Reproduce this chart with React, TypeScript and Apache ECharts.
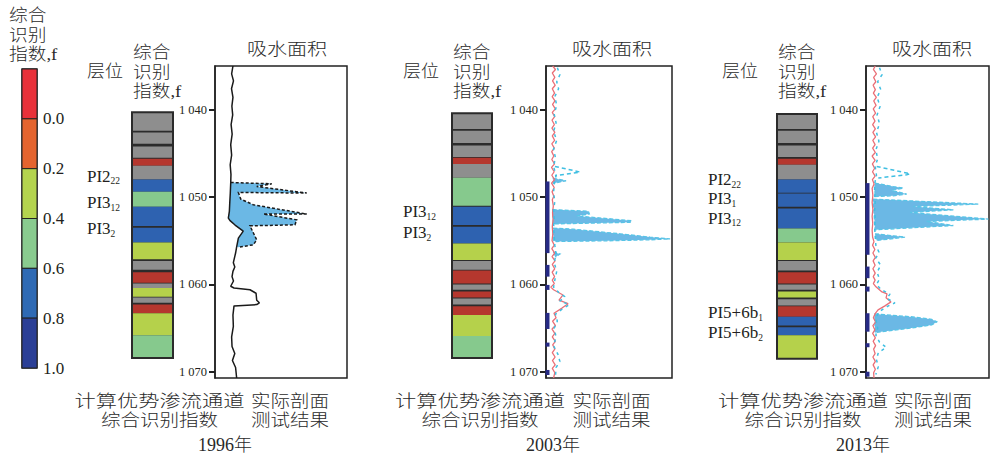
import React, { useEffect, useRef } from "react";
import * as echarts from "echarts";

const DEPTH_MIN = 1035;
const DEPTH_MAX = 1070.7;
const depthTicks = [1040, 1050, 1060, 1070];

const legendStops = [-0.2, 0, 0.2, 0.4, 0.6, 0.8, 1.0];
const legendColors = ["#e8313a", "#e4642f", "#b4d44f", "#89cb8f", "#2f6ab4", "#2b3f96"];
const legendTicks = [0, 0.2, 0.4, 0.6, 0.8, 1.0];

const layerPalette: Record<string, string> = {
  G: "#8e8e8e",
  R: "#b5372e",
  B: "#2e62b0",
  L: "#86c98d",
  Y: "#b5d14b",
};

// strip layers: [top depth, bottom depth, class]
const strip1996: [number, number, string][] = [
  [1040.3, 1042.4, "G"], [1042.6, 1043.9, "G"], [1044.2, 1045.5, "G"], [1045.6, 1046.4, "R"],
  [1046.4, 1048.0, "G"], [1048.0, 1049.4, "B"], [1049.4, 1051.1, "L"], [1051.1, 1053.3, "B"],
  [1053.5, 1055.2, "B"], [1055.2, 1057.1, "Y"], [1057.3, 1058.3, "G"], [1058.6, 1059.8, "R"],
  [1059.9, 1060.4, "G"], [1060.4, 1061.4, "Y"], [1061.5, 1062.1, "G"], [1062.3, 1063.3, "R"],
  [1063.3, 1065.8, "Y"], [1065.8, 1068.4, "L"],
];
const strip2003: [number, number, string][] = [
  [1040.4, 1042.2, "G"], [1042.4, 1043.8, "G"], [1044.1, 1045.4, "G"], [1045.5, 1046.2, "R"],
  [1046.2, 1047.8, "G"], [1047.8, 1051.0, "L"], [1051.1, 1053.2, "B"], [1053.4, 1055.3, "B"],
  [1055.3, 1057.2, "Y"], [1057.3, 1058.3, "G"], [1058.4, 1059.9, "R"], [1060.0, 1060.6, "G"],
  [1060.8, 1061.5, "R"], [1061.6, 1062.3, "G"], [1062.5, 1063.5, "R"], [1063.5, 1065.9, "Y"],
  [1065.9, 1068.4, "L"],
];
const strip2013: [number, number, string][] = [
  [1040.5, 1042.2, "G"], [1042.4, 1043.8, "G"], [1044.1, 1045.4, "G"], [1045.6, 1046.3, "R"],
  [1046.3, 1048.0, "G"], [1048.0, 1049.5, "B"], [1049.6, 1051.1, "B"], [1051.3, 1053.6, "B"],
  [1053.6, 1055.2, "L"], [1055.2, 1057.2, "Y"], [1057.3, 1058.4, "G"], [1058.6, 1059.9, "R"],
  [1060.0, 1060.6, "G"], [1060.8, 1061.5, "Y"], [1061.7, 1062.4, "G"], [1062.5, 1063.7, "R"],
  [1063.7, 1064.7, "B"], [1064.9, 1065.8, "B"], [1065.8, 1068.5, "Y"],
];

// zone labels: [depth, name, subscript]
const zones1996: [number, string, string][] = [
  [1047.6, "PI2", "22"], [1050.65, "PI3", "12"], [1053.6, "PI3", "2"],
];
const zones2003: [number, string, string][] = [
  [1051.7, "PI3", "12"], [1054.1, "PI3", "2"],
];
const zones2013: [number, string, string][] = [
  [1048.0, "PI2", "22"], [1050.2, "PI3", "1"], [1052.4, "PI3", "12"],
  [1063.25, "PI5+6b", "1"], [1065.5, "PI5+6b", "2"],
];

const years = ["1996年", "2003年", "2013年"];

// 1996 profile: [relative value, depth]
const curve1996: [number, number][] = [
  [13.6, 1035.0], [12.6, 1035.9], [14.0, 1036.7], [12.5, 1037.6], [13.6, 1038.6], [12.8, 1039.6],
  [13.4, 1040.6], [12.2, 1041.7], [13.0, 1042.8], [11.9, 1044.0], [12.6, 1045.2], [11.5, 1046.3],
  [12.1, 1047.4], [11.9, 1048.4], [11.6, 1049.5], [11.2, 1050.6], [10.9, 1051.6], [10.1, 1052.4],
  [11.4, 1052.7], [15.2, 1053.2], [21.4, 1053.9], [17.7, 1054.7], [16.4, 1055.7], [15.6, 1056.4],
  [13.9, 1057.5], [15.0, 1058.0], [13.6, 1058.5], [12.9, 1059.1], [14.0, 1059.6], [11.9, 1060.2],
  [14.4, 1060.4], [26.5, 1060.6], [31.1, 1061.0], [31.6, 1061.8], [33.6, 1062.1], [31.6, 1062.3],
  [14.4, 1062.45], [13.6, 1063.5], [13.9, 1064.8], [12.6, 1066.0], [12.9, 1067.1], [15.0, 1067.9],
  [13.2, 1068.7], [15.6, 1069.5], [16.4, 1070.7],
];
const area1996: [number, number][] = [
  [11.9, 1048.33], [43.0, 1048.48], [31.6, 1048.79], [69.5, 1049.54], [17.7, 1049.47], [19.5, 1050.23],
  [29.0, 1050.88], [69.5, 1051.94], [36.6, 1051.94], [61.9, 1052.6], [60.6, 1053.17], [26.5, 1053.29],
  [31.6, 1054.89], [29.0, 1055.46], [17.7, 1055.73], [16.4, 1055.66], [17.7, 1054.7], [21.4, 1053.9],
  [15.2, 1053.2], [11.4, 1052.7], [10.1, 1052.4], [10.9, 1051.6], [11.2, 1050.6], [11.6, 1049.5],
];
const edge1996: [number, number][] = [
  [11.9, 1048.33], [43.0, 1048.48], [31.6, 1048.79], [69.5, 1049.54], [17.7, 1049.47], [19.5, 1050.23],
  [29.0, 1050.88], [69.5, 1051.94], [36.6, 1051.94], [61.9, 1052.6], [60.6, 1053.17], [26.5, 1053.29],
  [31.6, 1054.89], [29.0, 1055.46], [17.7, 1055.73],
];

// 2003 profile
const log2003: [number, number][] = [
  [5.3, 1035.0], [7.5, 1035.4], [5.0, 1035.8], [7.0, 1036.3], [5.2, 1036.7], [7.3, 1037.2], [5.0, 1037.6],
  [6.8, 1038.1], [4.9, 1038.5], [7.1, 1039.0], [5.2, 1039.4], [7.4, 1039.9], [5.0, 1040.3], [6.9, 1040.8],
  [4.8, 1041.2], [6.6, 1041.7], [4.7, 1042.1], [7.0, 1042.6], [5.0, 1043.0], [6.8, 1043.5], [4.6, 1043.9],
  [6.6, 1044.4], [4.5, 1044.8], [6.2, 1045.3], [4.6, 1045.7], [6.8, 1046.2], [4.4, 1046.6], [6.5, 1047.1],
  [4.6, 1047.5], [6.8, 1048.0], [4.4, 1048.4], [6.5, 1048.9], [4.8, 1049.4], [6.2, 1049.9], [5.0, 1050.3],
  [5.8, 1051.0], [5.2, 1051.8], [5.6, 1052.6], [5.0, 1053.4], [5.4, 1054.2], [4.8, 1055.0], [6.6, 1055.5],
  [4.6, 1055.9], [6.9, 1056.4], [4.8, 1056.8], [7.2, 1057.3], [5.0, 1057.7], [6.9, 1058.2], [4.9, 1058.6],
  [6.8, 1059.1], [5.0, 1059.5], [6.6, 1059.9], [3.8, 1060.3], [6.0, 1060.6], [13.5, 1061.2], [10.3, 1061.8],
  [17.5, 1062.2], [12.7, 1062.7], [6.3, 1063.3], [8.0, 1063.8], [5.2, 1064.2], [7.5, 1064.7], [4.8, 1065.1],
  [7.0, 1065.6], [5.0, 1066.0], [7.4, 1066.5], [5.3, 1066.9], [7.0, 1067.4], [5.0, 1067.8], [7.2, 1068.3],
  [5.1, 1068.7], [7.3, 1069.2], [5.0, 1069.6], [7.0, 1070.1], [6.0, 1070.7],
];
const trace2003: [number, number][] = [
  [9.0, 1035.2], [11.0, 1036.0], [8.5, 1036.8], [10.0, 1037.6], [7.0, 1038.5], [8.5, 1039.5], [6.5, 1040.5],
  [8.0, 1041.5], [6.0, 1042.5], [8.5, 1043.5], [6.0, 1044.5], [7.5, 1045.5], [6.0, 1046.5], [8.0, 1047.5],
  [6.5, 1048.5], [6.0, 1049.5], [7.0, 1050.5], [6.0, 1051.5], [6.5, 1052.5], [6.0, 1053.5], [6.5, 1054.5],
  [7.0, 1055.5], [8.0, 1056.5], [6.5, 1057.5], [8.5, 1058.5], [7.0, 1059.5], [6.0, 1060.3], [10.0, 1060.9],
  [15.0, 1061.4], [11.0, 1061.9], [18.5, 1062.3], [13.0, 1062.8], [7.5, 1063.4], [9.0, 1064.2], [6.5, 1065.0],
  [8.0, 1066.0], [6.0, 1067.0], [9.5, 1068.0], [11.0, 1068.8], [8.0, 1069.5], [7.5, 1070.5],
];
const open2003: [number, number][][] = [
  [[7.1, 1046.49], [27.0, 1047.13], [21.4, 1047.27], [7.1, 1047.56]],
];
const spikes2003: [number, number][][] = [
  [[5.8, 1047.85], [15.9, 1048.13], [5.8, 1048.42]],
  [[5.3, 1051.43], [33.6, 1051.62], [34.4, 1051.93], [24.4, 1052.16], [68.0, 1052.7], [66.7, 1052.89], [5.8, 1053.07]],
  [[5.8, 1053.55], [21.7, 1053.67], [58.7, 1054.2], [82.5, 1054.58], [98.5, 1054.78], [82.5, 1054.89], [48.2, 1055.0], [8.5, 1055.08], [5.8, 1055.0]],
  [[5.6, 1056.27], [11.1, 1056.5], [7.9, 1056.84]],
];
const channels2003: [number, number][] = [
  [1048.21, 1056.41], [1057.76, 1059.1], [1060.05, 1060.62], [1063.25, 1065.09], [1066.65, 1067.11], [1069.78, 1070.36],
];

// 2013 profile
const log2013: [number, number][] = [
  [7.5, 1035.0], [6.0, 1035.4], [8.5, 1035.9], [6.2, 1036.3], [8.0, 1036.8], [5.8, 1037.2], [7.6, 1037.7],
  [6.0, 1038.1], [8.4, 1038.6], [6.3, 1039.0], [8.2, 1039.5], [5.9, 1039.9], [7.8, 1040.4], [5.5, 1040.8],
  [7.3, 1041.3], [5.4, 1041.7], [7.6, 1042.2], [5.6, 1042.6], [7.8, 1043.1], [5.5, 1043.5], [7.4, 1044.0],
  [5.4, 1044.4], [7.6, 1044.9], [5.0, 1045.3], [7.4, 1045.8], [5.2, 1046.2], [7.0, 1046.7], [5.3, 1047.1],
  [7.4, 1047.6], [5.2, 1048.0], [6.6, 1048.5], [5.0, 1049.0], [5.6, 1049.8], [5.0, 1050.6], [5.6, 1051.4],
  [5.0, 1052.2], [5.5, 1053.0], [5.0, 1053.8], [5.4, 1054.6], [6.5, 1055.1], [5.3, 1055.5], [7.2, 1056.0],
  [5.6, 1056.4], [7.6, 1056.9], [5.8, 1057.3], [7.4, 1057.8], [5.6, 1058.2], [7.5, 1058.7], [5.9, 1059.1],
  [7.4, 1059.5], [6.0, 1059.9], [8.1, 1060.27], [13.0, 1060.85], [17.1, 1061.08], [16.3, 1061.53],
  [20.3, 1061.99], [15.4, 1062.45], [9.8, 1062.91], [7.3, 1063.37], [6.0, 1063.8], [7.8, 1064.3], [5.6, 1064.7],
  [7.2, 1065.2], [5.4, 1065.6], [7.6, 1066.1], [5.8, 1066.5], [7.8, 1067.0], [6.2, 1067.4], [7.4, 1067.9],
  [5.6, 1068.3], [7.6, 1068.8], [5.8, 1069.2], [7.6, 1069.7], [6.2, 1070.1], [6.5, 1070.7],
];
const trace2013: [number, number][] = [
  [11.0, 1035.2], [13.0, 1036.0], [9.5, 1036.8], [12.0, 1037.7], [9.0, 1038.6], [11.5, 1039.6], [9.0, 1040.6],
  [11.0, 1041.6], [8.5, 1042.6], [10.5, 1043.6], [8.0, 1044.6], [9.5, 1045.6], [7.5, 1046.5], [8.5, 1047.5],
  [7.0, 1048.5], [7.0, 1049.5], [7.5, 1050.5], [7.0, 1051.5], [7.5, 1052.5], [7.0, 1053.5], [7.5, 1054.5],
  [8.0, 1055.5], [10.5, 1056.3], [8.0, 1057.0], [12.0, 1057.8], [9.0, 1058.6], [11.0, 1059.4], [8.5, 1060.0],
  [12.5, 1060.6], [19.5, 1061.1], [17.0, 1061.6], [23.5, 1062.1], [16.0, 1062.6], [10.0, 1063.2], [8.0, 1064.0],
  [9.5, 1065.0], [8.0, 1065.8], [11.0, 1066.6], [16.5, 1067.2], [10.0, 1067.8], [8.5, 1068.6], [10.0, 1069.4],
  [8.0, 1070.3],
];
const open2013: [number, number][][] = [
  [[8.7, 1046.49], [35.8, 1047.33], [33.1, 1047.44], [10.0, 1047.82]],
];
const spikes2013: [number, number][][] = [
  [[7.3, 1048.4], [22.2, 1048.79], [30.3, 1048.97], [20.9, 1049.24], [33.1, 1049.66], [22.2, 1049.85], [7.3, 1049.93]],
  [[5.9, 1050.23], [91.3, 1050.8], [38.5, 1051.08], [71.0, 1051.45], [35.8, 1051.76], [99.5, 1052.52], [49.3, 1052.79], [71.0, 1053.25], [7.3, 1053.75]],
  [[7.3, 1054.2], [31.7, 1054.58], [8.7, 1054.97]],
  [[7.3, 1063.37], [35.8, 1063.68], [53.4, 1063.98], [57.5, 1064.28], [53.4, 1064.63], [35.8, 1065.0], [7.3, 1065.5]],
];
const channels2013: [number, number][] = [
  [1048.4, 1056.6], [1057.95, 1059.28], [1060.24, 1060.81], [1063.29, 1065.4], [1066.72, 1067.18], [1069.98, 1070.55],
];

const INK = "#231f20";
const SERIF = "'Liberation Serif', 'Noto Sans CJK SC', serif";
const CJK = "'Liberation Serif', 'Noto Sans CJK SC', sans-serif";
const TOP = 66;
const H = 312;

const panels = [
  { year: years[0], strip: strip1996, zones: zones1996, stripLeft: 132, stripWidth: 41, labelLeft: 87, profLeft: 215, profWidth: 132, layerX: 87, titleX: 287, bl: 159.5, br: 290, yearX: 225 },
  { year: years[1], strip: strip2003, zones: zones2003, stripLeft: 452, stripWidth: 40, labelLeft: 403, profLeft: 546, profWidth: 126, layerX: 403, titleX: 612, bl: 480, br: 611.5, yearX: 553 },
  { year: years[2], strip: strip2013, zones: zones2013, stripLeft: 777, stripWidth: 40, labelLeft: 708, profLeft: 866, profWidth: 123, layerX: 722, titleX: 932, bl: 803, br: 933, yearX: 863 },
];

function polySeries(gi: number, shapes: [number, number][][], style: any, z: number, closed: boolean) {
  return {
    type: "custom",
    xAxisIndex: gi,
    yAxisIndex: gi,
    z,
    silent: true,
    data: shapes.map((s, i) => [s[0][0], s[0][1], i]),
    encode: { x: 0, y: 1 },
    renderItem: (_p: any, api: any) => {
      const pts = shapes[api.value(2)].map((pt) => api.coord(pt));
      return { type: closed ? "polygon" : "polyline", shape: { points: pts }, style };
    },
  };
}

function lineSeries(gi: number, data: [number, number][], color: string, width: number, type: any, z: number) {
  return {
    type: "line",
    xAxisIndex: gi,
    yAxisIndex: gi,
    data,
    symbol: "none",
    silent: true,
    z,
    lineStyle: { color, width, type },
  };
}

function channelSeries(gi: number, bars: [number, number][]) {
  return {
    type: "custom",
    xAxisIndex: gi,
    yAxisIndex: gi,
    z: 6,
    silent: true,
    data: bars.map((b) => [0, b[0], b[1]]),
    encode: { x: 0, y: [1, 2] },
    renderItem: (_p: any, api: any) => {
      const a = api.coord([0, api.value(1)]);
      const b = api.coord([0, api.value(2)]);
      return { type: "rect", shape: { x: a[0] - 0.5, y: a[1], width: 4, height: b[1] - a[1] }, style: { fill: "#262a85" } };
    },
  };
}

function stripSeries(gi: number, layers: any, labelLeft: number, zones: [number, string, string][]) {
  const first = layers[0][0];
  const last = layers[layers.length - 1][1];
  const frame = (fill: string, stroke: string, lw: number, z: number) => ({
    type: "custom",
    xAxisIndex: gi,
    yAxisIndex: gi,
    z,
    silent: true,
    data: [[0, first, last]],
    encode: { x: 0, y: [1, 2] },
    renderItem: (_p: any, api: any) => {
      const a = api.coord([0, api.value(1)]);
      const b = api.coord([1, api.value(2)]);
      return { type: "rect", shape: { x: a[0], y: a[1], width: b[0] - a[0], height: b[1] - a[1] }, style: { fill, stroke, lineWidth: lw } };
    },
  });
  return [
    frame("#2b2b2b", "none", 0, 2),
    {
      type: "custom",
      xAxisIndex: gi,
      yAxisIndex: gi,
      z: 3,
      silent: true,
      data: layers.map((l: any, i: number) => [0, l[0], l[1], i]),
      encode: { x: 0, y: [1, 2] },
      renderItem: (_p: any, api: any) => {
        const a = api.coord([0, api.value(1)]);
        const b = api.coord([1, api.value(2)]);
        const cls = layers[api.value(3)][2];
        return { type: "rect", shape: { x: a[0], y: a[1], width: b[0] - a[0], height: b[1] - a[1] }, style: { fill: layerPalette[cls] } };
      },
    },
    frame("none", "#2b2b2b", 2, 4),
    {
      type: "custom",
      xAxisIndex: gi,
      yAxisIndex: gi,
      z: 5,
      silent: true,
      data: zones.map((zn, i) => [0, zn[0], i]),
      encode: { x: 0, y: 1 },
      renderItem: (_p: any, api: any) => {
        const p = api.coord([0, api.value(1)]);
        const zn = zones[api.value(2)];
        return {
          type: "text",
          x: labelLeft,
          y: p[1],
          style: {
            text: `{n|${zn[1]}}{s|${zn[2]}}`,
            align: "left",
            verticalAlign: "middle",
            rich: {
              n: { fontSize: 17, fontFamily: SERIF, lineHeight: 20, fill: INK, color: INK },
              s: { fontSize: 9.5, fontFamily: SERIF, lineHeight: 10, fill: INK, color: INK, verticalAlign: "bottom" },
            },
          },
        };
      },
    },
  ];
}

function buildOption() {
  const grid: any[] = [
    { left: 22, top: 69, width: 15, height: 299, show: true, borderColor: "#222", borderWidth: 1.5 },
  ];
  const xAxis: any[] = [{ gridIndex: 0, type: "value", min: 0, max: 1, show: false }];
  const yAxis: any[] = [
    {
      gridIndex: 0,
      type: "value",
      min: -0.2,
      max: 1,
      inverse: true,
      position: "right",
      axisLine: { show: false },
      axisTick: { show: false },
      splitLine: { show: false },
      axisLabel: {
        customValues: legendTicks,
        formatter: (v: number) => v.toFixed(1),
        fontSize: 17,
        fontFamily: SERIF,
        color: INK,
        margin: 6,
      },
    },
  ];
  const series: any[] = [
    {
      type: "custom",
      xAxisIndex: 0,
      yAxisIndex: 0,
      silent: true,
      data: legendColors.map((_c, i) => [0, legendStops[i], legendStops[i + 1], i]),
      encode: { x: 0, y: [1, 2] },
      renderItem: (_p: any, api: any) => {
        const a = api.coord([0, api.value(1)]);
        const b = api.coord([1, api.value(2)]);
        return {
          type: "rect",
          shape: { x: a[0], y: a[1], width: b[0] - a[0], height: b[1] - a[1] },
          style: { fill: legendColors[api.value(3)], stroke: "#222", lineWidth: 1 },
        };
      },
    },
  ];

  panels.forEach((p) => {
    const si = grid.length;
    grid.push({ left: p.stripLeft, top: TOP, width: p.stripWidth, height: H, show: false });
    xAxis.push({ gridIndex: si, type: "value", min: 0, max: 1, show: false });
    yAxis.push({ gridIndex: si, type: "value", min: DEPTH_MIN, max: DEPTH_MAX, inverse: true, show: false });
    series.push(...stripSeries(si, p.strip, p.labelLeft, p.zones));

    const pi = grid.length;
    grid.push({ left: p.profLeft, top: TOP, width: p.profWidth, height: H, show: true, borderColor: "#222", borderWidth: 1.5 });
    xAxis.push({ gridIndex: pi, type: "value", min: 0, max: 100, show: false });
    yAxis.push({
      gridIndex: pi,
      type: "value",
      min: DEPTH_MIN,
      max: DEPTH_MAX,
      inverse: true,
      axisLine: { show: true, lineStyle: { color: "#222", width: 1.5 } },
      axisTick: { show: true, customValues: depthTicks, length: 6, lineStyle: { color: "#222", width: 2 } },
      splitLine: { show: false },
      axisLabel: {
        customValues: depthTicks,
        formatter: (v: number) => `${Math.floor(v / 1000)} ${String(v % 1000).padStart(3, "0")}`,
        fontSize: 12.5,
        fontFamily: SERIF,
        color: INK,
        margin: 8,
      },
    });
  });

  // 1996
  series.push(polySeries(2, [area1996], { fill: "#6bb8e5" }, 3, true));
  series.push(polySeries(2, [edge1996], { fill: "none", stroke: "#1a1a1a", lineWidth: 1.5, lineDash: [3, 2] }, 4, false));
  series.push(lineSeries(2, curve1996, "#1a1a1a", 1.5, "solid", 5));
  // 2003
  series.push(polySeries(4, spikes2003, { fill: "#6bb8e5", stroke: "#58c4e6", lineWidth: 1.3, lineDash: [4, 2] }, 3, true));
  series.push(polySeries(4, open2003, { fill: "none", stroke: "#3fbfe2", lineWidth: 1.5, lineDash: [4, 3] }, 3, false));
  series.push(lineSeries(4, log2003, "#ea6f77", 1.3, "solid", 4));
  series.push(lineSeries(4, trace2003, "#3fbfe2", 1.5, [3, 4], 5));
  series.push(channelSeries(4, channels2003));
  // 2013
  series.push(polySeries(6, spikes2013, { fill: "#6bb8e5", stroke: "#58c4e6", lineWidth: 1.3, lineDash: [4, 2] }, 3, true));
  series.push(polySeries(6, open2013, { fill: "none", stroke: "#3fbfe2", lineWidth: 1.5, lineDash: [4, 3] }, 3, false));
  series.push(lineSeries(6, log2013, "#ea6f77", 1.3, "solid", 4));
  series.push(lineSeries(6, trace2013, "#3fbfe2", 1.5, [3, 4], 5));
  series.push(channelSeries(6, channels2013));

  const txt = (text: string, x: number, y: number, opts: any = {}) => ({
    type: "text",
    x,
    y,
    scaleX: opts.scaleX ?? 1,
    z: 10,
    style: {
      text,
      fontSize: opts.fontSize ?? 17,
      fontFamily: opts.fontFamily ?? CJK,
      fontWeight: 300,
      fill: "#2a2a2a",
      align: opts.align ?? "center",
      verticalAlign: opts.verticalAlign ?? "middle",
      lineHeight: opts.lineHeight ?? 20,
    },
  });

  const graphic: any[] = [
    txt("综合\n识别\n指数,f", 9, 6, { align: "left", verticalAlign: "top", lineHeight: 19.5, scaleX: 1.1 }),
  ];
  panels.forEach((p) => {
    graphic.push(txt("层位", p.layerX, 71, { align: "left", scaleX: 1.06 }));
    graphic.push(txt("综合\n识别\n指数,f", p.stripLeft + 1, 43, { align: "left", verticalAlign: "top", lineHeight: 19.5, scaleX: 1.1 }));
    graphic.push(txt("吸水面积", p.titleX, 49, { scaleX: 1.18 }));
    graphic.push(txt("计算优势渗流通道", p.bl, 401, { scaleX: 1.25 }));
    graphic.push(txt("综合识别指数", p.bl, 420, { scaleX: 1.15 }));
    graphic.push(txt("实际剖面", p.br, 401, { scaleX: 1.15 }));
    graphic.push(txt("测试结果", p.br, 420, { scaleX: 1.15 }));
    graphic.push(txt(p.year, p.yearX, 445, { fontFamily: SERIF, fontSize: 18 }));
  });

  return {
    animation: false,
    backgroundColor: "#ffffff",
    grid,
    xAxis,
    yAxis,
    series,
    graphic,
  };
}

export default function App() {
  const ref = useRef<HTMLDivElement>(null);
  useEffect(() => {
    document.body.style.margin = "0";
    const chart = echarts.init(ref.current as HTMLDivElement, null, { renderer: "svg" });
    chart.setOption(buildOption() as any);
    return () => chart.dispose();
  }, []);
  return <div ref={ref} style={{ width: 990, height: 461 }} />;
}
